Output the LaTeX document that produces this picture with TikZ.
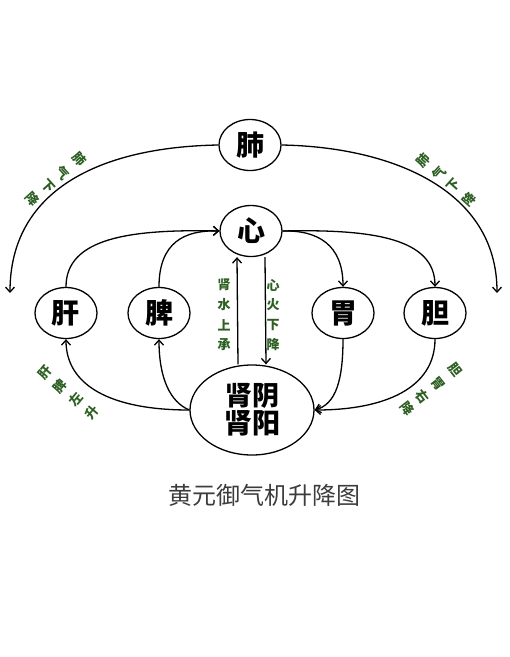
\documentclass[tikz,border=0pt]{standalone}
\usepackage{fontspec}
\newfontfamily\cjk{Noto Sans CJK SC}
\usetikzlibrary{shapes.geometric,arrows.meta}
\definecolor{lblgreen}{RGB}{45,95,35}
\definecolor{titlegray}{RGB}{60,60,60}
\begin{document}
\begin{tikzpicture}[x=1pt,y=-1pt,line width=1.3pt,
	organ/.style={draw, ellipse, inner sep=0pt, minimum width=62pt, minimum height=51pt, font=\cjk\bfseries\fontsize{28}{28}\selectfont},
	flow/.style={-{Straight Barb[length=5pt,width=9pt]}},
	lbl/.style={text=lblgreen, inner sep=0pt, font=\cjk\bfseries\fontsize{13}{13}\selectfont}]
	\useasboundingbox (0,0) rectangle (510,657);
	% organs
	\node[organ] (fei) at (250,145) {肺};
	\node[organ] (xin) at (251,231) {心};
	\node[organ] (gan) at (66,313) {肝};
	\node[organ] (pi) at (159,313) {脾};
	\node[organ] (wei) at (343,313) {胃};
	\node[organ] (dan) at (435,313) {胆};
	\node[organ, minimum width=124pt, minimum height=90pt, align=center] (shen) at (252,410)
		{\fontsize{27}{37}\selectfont 肾阴\\肾阳};
	\coordinate (lend) at (10,293);
	\coordinate (rend) at (497,293);
	
	% outer arc
	\draw[flow] (fei.west) .. controls (100,147) and (10,190) .. (lend);
	\draw[flow] (fei.east) .. controls (392,147) and (497,190) .. (rend);
	
	% rising to the heart, falling from it
	\draw[flow] (gan.north) .. controls (66,238) and (130,229) .. (xin.west);
	\draw[flow] (pi.north) .. controls (159,242) and (185,230) .. (xin.west);
	\draw[flow] (xin.east) .. controls (318,230) and (343,245) .. (wei.north);
	\draw[flow] (xin.east) .. controls (372,229) and (435,238) .. (dan.north);
	
	% from and to the kidney
	\draw[flow] (shen.west) .. controls (110,410) and (66,385) .. (gan.south);
	\draw[flow] (shen.west) .. controls (170,402) and (159,378) .. (pi.south);
	\draw[flow] (wei.south) .. controls (343,380) and (336,404) .. (shen.east);
	\draw[flow] (dan.south) .. controls (435,388) and (385,410) .. (shen.east);
	
	% water up, fire down
	\draw[flow] ([xshift=-14pt]shen.north) -- ([xshift=-14pt]xin.south);
	\draw[flow] ([xshift=14pt]xin.south) -- ([xshift=14pt]shen.north);
	\foreach \c/\y in {肾/285, 水/305, 上/325, 承/345}
		\node[lbl] (sl-\c) at (224,\y) {\c};
	\foreach \c/\y in {心/285, 火/305, 下/325, 降/345}
		\node[lbl] (sr-\c) at (273,\y) {\c};
	
	% labels along the arcs
	\foreach \c/\x/\y [count=\i] in {肺/79/159, 气/63/173, 下/48/186, 降/33/199}
		\node[lbl, rotate=-48] (ul\i) at (\x,\y) {\c};
	\foreach \c/\x/\y [count=\i] in {肺/423/160, 气/439/173, 下/454/186, 降/469/199}
		\node[lbl, rotate=48] (ur\i) at (\x,\y) {\c};
	\foreach \c/\x/\y [count=\i] in {肝/45/372, 脾/60/386, 左/76/399, 升/92/412}
		\node[lbl, rotate=50] (ll\i) at (\x,\y) {\c};
	\foreach \c/\x/\y [count=\i] in {胆/455/370, 胃/438/384, 右/422/397, 降/407/409}
		\node[lbl, rotate=-52] (lr\i) at (\x,\y) {\c};
	
	% title
	\node[text=titlegray, font=\cjk\fontsize{24}{24}\selectfont] (title) at (264,495) {黄元御气机升降图};
\end{tikzpicture}
\end{document}
